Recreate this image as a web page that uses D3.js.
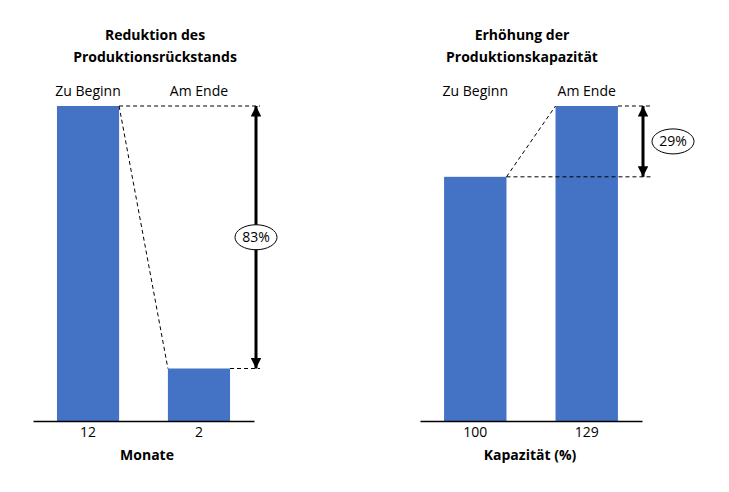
<!DOCTYPE html>
<html>
<head>
<meta charset="utf-8">
<script src="https://cdn.jsdelivr.net/npm/d3@7"></script>
<style>
  body { margin: 0; background: #fff; }
  text { font-family: "Open Sans", "Liberation Sans", sans-serif; fill: #000; font-variant-ligatures: none; }
</style>
</head>
<body>
<svg width="729" height="492"></svg>
<script>
const categories = ["Zu Beginn", "Am Ende"];
const backlog = [12, 2];
const capacity = [100, 129];
const backlogChange = "83%";
const capacityChange = "29%";

const svg = d3.select("svg");
const blue = "#4472c4";
const baseY = 421, topY = 106;
const fs = 14;

// arrow heads
const defs = svg.append("defs");
["start", "end"].forEach(k => {
  defs.append("marker")
    .attr("id", "arr-" + k)
    .attr("viewBox", "0 0 10 10")
    .attr("refX", 10).attr("refY", 5)
    .attr("markerWidth", 3.5).attr("markerHeight", 3.5)
    .attr("orient", k == "end" ? "auto" : "auto-start-reverse")
    .append("path")
    .attr("d", "M0,0 L10,5 L0,10 Z")
    .attr("fill", "#000");
});

function panel(opts) {
  const g = svg.append("g");
  const x = d3.scaleBand().domain(categories)
    .range([opts.x0, opts.x1]).paddingInner(0.44).paddingOuter(0.216);
  const y = d3.scaleLinear().domain([0, d3.max(opts.values)]).range([baseY, topY]);

  // title
  opts.title.forEach((t, i) => {
    g.append("text").attr("x", opts.titleX).attr("y", 40 + i * 22)
      .attr("text-anchor", "middle").attr("font-size", fs).attr("font-weight", "bold")
      .text(t);
  });

  // category labels on top
  g.selectAll(".cat").data(categories).join("text")
    .attr("x", d => x(d) + x.bandwidth() / 2).attr("y", 96)
    .attr("text-anchor", "middle").attr("font-size", fs)
    .text(d => d);

  // bars
  g.selectAll("rect").data(opts.values).join("rect")
    .attr("x", (d, i) => x(categories[i]))
    .attr("y", d => y(d))
    .attr("width", x.bandwidth())
    .attr("height", d => baseY - y(d))
    .attr("fill", blue);

  // axis with value tick labels
  const ax = g.append("g").attr("transform", `translate(0,${baseY})`)
    .call(d3.axisBottom(x).tickSize(0).tickPadding(6)
      .tickFormat((d, i) => opts.values[i]));
  ax.select(".domain").attr("stroke", "#000").attr("stroke-width", 1.3);
  ax.selectAll("text").attr("font-size", fs).attr("font-family", null);

  g.append("text").attr("x", opts.axisTitleX).attr("y", baseY + 39)
    .attr("text-anchor", "middle").attr("font-size", fs).attr("font-weight", "bold")
    .text(opts.axisTitle);

  // dashed guides
  const v0 = opts.values[0], v1 = opts.values[1];
  const bar0R = x(categories[0]) + x.bandwidth();
  const bar1L = x(categories[1]), bar1R = bar1L + x.bandwidth();
  const dash = "4,3";
  g.append("line").attr("x1", bar0R).attr("y1", y(v0))
    .attr("x2", bar1L).attr("y2", y(v1))
    .attr("stroke", "#000").attr("stroke-dasharray", dash);
  const highV = Math.max(v0, v1), lowV = Math.min(v0, v1);
  const highX = v0 > v1 ? bar0R : bar1R;
  const lowX = v0 > v1 ? bar1R : bar0R;
  g.append("line").attr("x1", highX).attr("y1", y(highV))
    .attr("x2", opts.guideEnd).attr("y2", y(highV))
    .attr("stroke", "#000").attr("stroke-dasharray", dash);
  g.append("line").attr("x1", lowX).attr("y1", y(lowV))
    .attr("x2", opts.guideEnd).attr("y2", y(lowV))
    .attr("stroke", "#000").attr("stroke-dasharray", dash);

  // double arrow
  g.append("line").attr("x1", opts.arrowX).attr("y1", y(highV))
    .attr("x2", opts.arrowX).attr("y2", y(lowV))
    .attr("stroke", "#000").attr("stroke-width", 3)
    .attr("marker-start", "url(#arr-start)").attr("marker-end", "url(#arr-end)");

  // percent bubble
  const by = (y(highV) + y(lowV)) / 2;
  g.append("ellipse").attr("cx", opts.bubbleX).attr("cy", by)
    .attr("rx", 21).attr("ry", 12.5)
    .attr("fill", "#fff").attr("stroke", "#000").attr("stroke-width", 1);
  g.append("text").attr("x", opts.bubbleX).attr("y", by + 5)
    .attr("text-anchor", "middle").attr("font-size", fs)
    .text(opts.change);
}

panel({
  x0: 33, x1: 254, values: backlog,
  title: ["Reduktion des", "Produktionsrückstands"], titleX: 155,
  axisTitle: "Monate", axisTitleX: 147,
  guideEnd: 260, arrowX: 256, bubbleX: 256, change: backlogChange
});

panel({
  x0: 420, x1: 642, values: capacity,
  title: ["Erhöhung der", "Produktionskapazität"], titleX: 522,
  axisTitle: "Kapazität (%)", axisTitleX: 530,
  guideEnd: 652, arrowX: 643, bubbleX: 673, change: capacityChange
});
</script>
</body>
</html>
